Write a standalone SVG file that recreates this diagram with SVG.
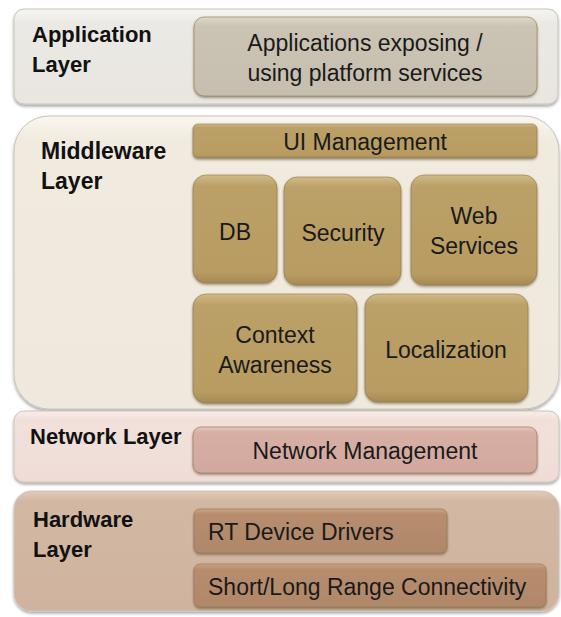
<svg xmlns="http://www.w3.org/2000/svg" width="561" height="617" viewBox="0 0 561 617">
<defs>
  <filter id="sh" x="-10%" y="-10%" width="120%" height="130%">
    <feDropShadow dx="0" dy="2" stdDeviation="1.5" flood-color="#000" flood-opacity="0.35"/>
  </filter>
  <filter id="shs" x="-10%" y="-10%" width="120%" height="130%">
    <feDropShadow dx="0" dy="1.5" stdDeviation="1" flood-color="#3a2a10" flood-opacity="0.5"/>
  </filter>
  <linearGradient id="gApp" x1="0" y1="0" x2="0" y2="1">
    <stop offset="0" stop-color="#f6f5f2"/><stop offset="0.15" stop-color="#ebe9e4"/><stop offset="1" stop-color="#e9e6e0"/>
  </linearGradient>
  <linearGradient id="gAppIn" x1="0" y1="0" x2="0" y2="1">
    <stop offset="0" stop-color="#ddd7cb"/><stop offset="0.12" stop-color="#cbc4b5"/><stop offset="1" stop-color="#c6beae"/>
  </linearGradient>
  <linearGradient id="gMid" x1="0" y1="0" x2="0" y2="1">
    <stop offset="0" stop-color="#faf7f1"/><stop offset="0.08" stop-color="#f1ebdf"/><stop offset="1" stop-color="#efe8dc"/>
  </linearGradient>
  <linearGradient id="gGold" x1="0" y1="0" x2="0" y2="1">
    <stop offset="0" stop-color="#d2bb87"/><stop offset="0.1" stop-color="#bba067"/><stop offset="0.9" stop-color="#b89c62"/><stop offset="1" stop-color="#a58a52"/>
  </linearGradient>
  <linearGradient id="gNet" x1="0" y1="0" x2="0" y2="1">
    <stop offset="0" stop-color="#f9eeea"/><stop offset="0.12" stop-color="#f2e1db"/><stop offset="1" stop-color="#efdcd6"/>
  </linearGradient>
  <linearGradient id="gNetIn" x1="0" y1="0" x2="0" y2="1">
    <stop offset="0" stop-color="#e6c6be"/><stop offset="0.12" stop-color="#d7afa5"/><stop offset="1" stop-color="#d2a89e"/>
  </linearGradient>
  <linearGradient id="gHw" x1="0" y1="0" x2="0" y2="1">
    <stop offset="0" stop-color="#e2cbba"/><stop offset="0.08" stop-color="#d2b8a3"/><stop offset="1" stop-color="#cfb39e"/>
  </linearGradient>
  <linearGradient id="gHwIn" x1="0" y1="0" x2="0" y2="1">
    <stop offset="0" stop-color="#cba386"/><stop offset="0.12" stop-color="#b78d6e"/><stop offset="1" stop-color="#b0876a"/>
  </linearGradient>
</defs>
<style>
  .lbl { font-family: "Liberation Sans", Arial, sans-serif; font-weight: bold; font-size: 22px; fill: #111; }
  .t { font-family: "Liberation Sans", Arial, sans-serif; font-size: 23px; fill: #1a1a1a; text-anchor: middle; }
  .tl { font-family: "Liberation Sans", Arial, sans-serif; font-size: 23px; fill: #1a1a1a; }
  .outer { filter: url(#sh); stroke: #c9c4bb; stroke-width: 1; }
  .inner { filter: url(#shs); stroke: #8f7a4c; stroke-width: 0.6; }
</style>

<g id="application-layer">
  <rect class="outer" x="14" y="9" width="544" height="95" rx="10" fill="url(#gApp)"/>
  <text class="lbl" x="32" y="42">Application</text>
  <text class="lbl" x="32" y="72">Layer</text>
</g>
<g id="applications">
  <rect class="inner" x="194" y="17" width="343" height="79" rx="10" fill="url(#gAppIn)" stroke="#8e8776"/>
  <text class="t" x="365" y="51">Applications exposing /</text>
  <text class="t" x="365" y="81">using platform services</text>
</g>

<g id="middleware-layer">
  <rect class="outer" x="14" y="116" width="545" height="293" rx="35" fill="url(#gMid)"/>
  <text class="lbl" x="41" y="159" style="font-size:23px">Middleware</text>
  <text class="lbl" x="41" y="189" style="font-size:23px">Layer</text>
</g>
<g id="ui-management">
  <rect class="inner" x="193" y="124" width="344" height="34" rx="5" fill="url(#gGold)"/>
  <text class="t" x="365" y="150">UI  Management</text>
</g>
<g id="db">
  <rect class="inner" x="193" y="175" width="84" height="108" rx="13" fill="url(#gGold)"/>
  <text class="t" x="235" y="240">DB</text>
</g>
<g id="security">
  <rect class="inner" x="284" y="177" width="117" height="108" rx="13" fill="url(#gGold)"/>
  <text class="t" x="343" y="241">Security</text>
</g>
<g id="web-services">
  <rect class="inner" x="411" y="175" width="126" height="110" rx="13" fill="url(#gGold)"/>
  <text class="t" x="474" y="224">Web</text>
  <text class="t" x="474" y="254">Services</text>
</g>
<g id="context-awareness">
  <rect class="inner" x="193" y="294" width="164" height="109" rx="13" fill="url(#gGold)"/>
  <text class="t" x="275" y="343">Context</text>
  <text class="t" x="275" y="373">Awareness</text>
</g>
<g id="localization">
  <rect class="inner" x="365" y="294" width="163" height="108" rx="13" fill="url(#gGold)"/>
  <text class="t" x="446" y="358">Localization</text>
</g>

<g id="network-layer">
  <rect class="outer" x="14" y="411" width="545" height="71" rx="10" fill="url(#gNet)"/>
  <text class="lbl" x="30" y="444">Network Layer</text>
</g>
<g id="network-management">
  <rect class="inner" x="193" y="427" width="344" height="46" rx="8" fill="url(#gNetIn)" stroke="#9a7a72"/>
  <text class="t" x="365" y="459">Network Management</text>
</g>

<g id="hardware-layer">
  <rect class="outer" x="14" y="491" width="545" height="120" rx="18" fill="url(#gHw)"/>
  <text class="lbl" x="33" y="527">Hardware</text>
  <text class="lbl" x="33" y="557">Layer</text>
</g>
<g id="rt-device-drivers">
  <rect class="inner" x="194" y="509" width="253" height="44" rx="6" fill="url(#gHwIn)" stroke="#7e5c44"/>
  <text class="tl" x="208" y="540">RT Device Drivers</text>
</g>
<g id="connectivity">
  <rect class="inner" x="194" y="564" width="352" height="43" rx="6" fill="url(#gHwIn)" stroke="#7e5c44"/>
  <text class="tl" x="208" y="595">Short/Long Range Connectivity</text>
</g>

<g id="connectors"/>
</svg>
